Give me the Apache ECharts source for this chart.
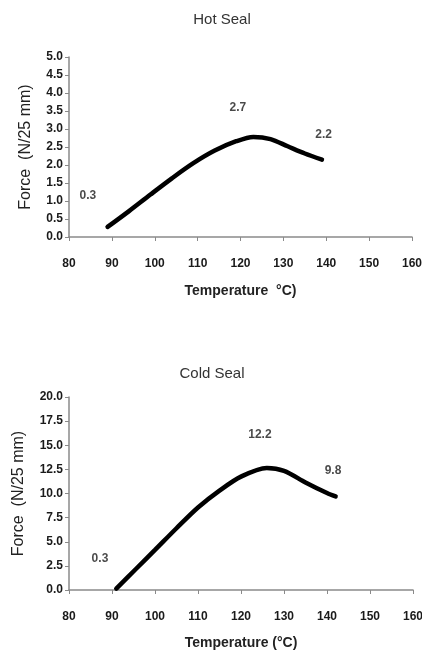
<!DOCTYPE html>
<html><head><meta charset="utf-8">
<script src="https://cdn.jsdelivr.net/npm/echarts@6/dist/echarts.min.js"></script>
<style>html,body{margin:0;padding:0;background:#fff}#c{width:422px;height:650px}</style>
</head><body><div id="c"></div>
<script>
// Hot Seal data
const hotTemp  = [89, 94, 99, 104, 109, 114, 119, 123, 127, 131, 135, 139];
const hotForce = [0.28, 0.72, 1.18, 1.63, 2.05, 2.4, 2.66, 2.78, 2.72, 2.52, 2.32, 2.15];
const hotNotes = [[84.4, 1.14, '0.3'], [119.4, 3.58, '2.7'], [139.4, 2.83, '2.2']];
// Cold Seal data
const coldTemp  = [91, 95.5, 100, 105, 110, 115, 120, 126, 130, 135, 140, 142];
const coldForce = [0.15, 2.15, 4.15, 6.4, 8.55, 10.3, 11.75, 12.65, 12.35, 11.15, 10.05, 9.7];
const coldNotes = [[87.2, 3.2, '0.3'], [124.4, 16.1, '12.2'], [141.4, 12.4, '9.8']];
const xTicks = {min: 80, max: 160, interval: 10};
const hotY = {min: 0, max: 5, interval: 0.5};
const coldY = {min: 0, max: 20, interval: 2.5};

const FONT = 'Liberation Sans, Arial, sans-serif';
const axisCol = '#8a8a8a';
function xAx(idx, name, gap) {
  return {type: 'value', gridIndex: idx, min: xTicks.min, max: xTicks.max, interval: xTicks.interval,
    name: name, nameLocation: 'middle', nameGap: gap,
    nameTextStyle: {color: '#222', fontFamily: FONT, fontSize: 14, fontWeight: 'bold'},
    axisLine: {show: true, lineStyle: {color: axisCol, width: 1.5}},
    axisTick: {show: true, inside: false, length: 4, lineStyle: {color: axisCol}},
    splitLine: {show: false},
    axisLabel: {color: '#1a1a1a', fontFamily: FONT, fontSize: 12, fontWeight: 'bold', margin: 21, showMaxLabel: true, showMinLabel: true}};
}
function yAx(idx, r, dec, gap) {
  return {type: 'value', gridIndex: idx, min: r.min, max: r.max, interval: r.interval,
    name: 'Force  (N/25 mm)', nameLocation: 'middle', nameGap: gap, nameRotate: 90,
    nameTextStyle: {color: '#222', fontFamily: FONT, fontSize: 16},
    axisLine: {show: true, lineStyle: {color: axisCol, width: 1.5}},
    axisTick: {show: true, inside: false, length: 4, lineStyle: {color: axisCol}},
    splitLine: {show: false},
    axisLabel: {color: '#1a1a1a', fontFamily: FONT, fontSize: 12, fontWeight: 'bold', margin: 6,
      formatter: v => v.toFixed(dec)}};
}
function zip(a, b) { return a.map((v, i) => [v, b[i]]); }
function notes(idx, arr) {
  return {type: 'scatter', xAxisIndex: idx, yAxisIndex: idx, symbolSize: 0, data: arr,
    label: {show: true, position: 'inside', formatter: p => p.data[2], color: '#1a1a1a',
      fontFamily: FONT, fontSize: 12, fontWeight: 'bold'}, silent: true};
}
const chart = echarts.init(document.getElementById('c'), null, {renderer: 'canvas'});
chart.setOption({
  animation: false,
  backgroundColor: '#fff',
  title: [
    {text: 'Hot Seal', left: 217, top: 7, textAlign: 'center',
      textStyle: {fontFamily: FONT, fontSize: 15, fontWeight: 'normal', color: '#333'}},
    {text: 'Cold Seal', left: 207, top: 361, textAlign: 'center',
      textStyle: {fontFamily: FONT, fontSize: 15, fontWeight: 'normal', color: '#333'}}
  ],
  grid: [
    {left: 69, right: 10, top: 57, bottom: 413, containLabel: false, outerBoundsMode: 'none'},
    {left: 69, right: 9, top: 397, bottom: 60, containLabel: false, outerBoundsMode: 'none'}
  ],
  xAxis: [xAx(0, 'Temperature  °C)', 47), xAx(1, 'Temperature (°C)', 46)],
  yAxis: [yAx(0, hotY, 1, 35), yAx(1, coldY, 1, 42)],
  series: [
    {type: 'line', xAxisIndex: 0, yAxisIndex: 0, data: zip(hotTemp, hotForce), smooth: 0.3,
      showSymbol: false, lineStyle: {color: '#000', width: 4.5, cap: 'round'}},
    {type: 'line', xAxisIndex: 1, yAxisIndex: 1, data: zip(coldTemp, coldForce), smooth: 0.3,
      showSymbol: false, lineStyle: {color: '#000', width: 4.5, cap: 'round'}},
    notes(0, hotNotes), notes(1, coldNotes)
  ]
});
</script></body></html>
